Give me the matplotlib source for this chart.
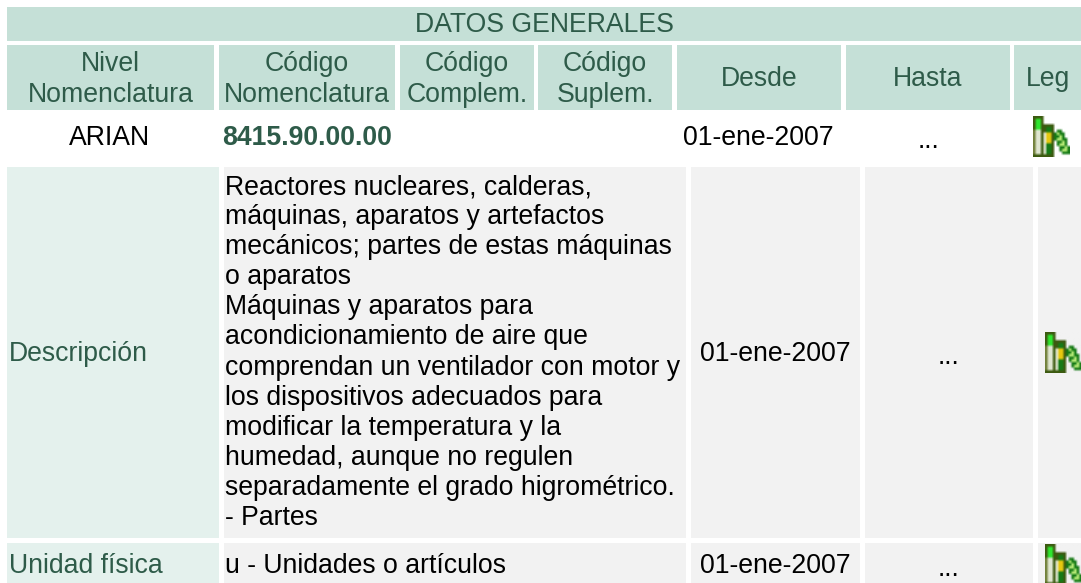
import matplotlib
matplotlib.use("Agg")
import matplotlib.pyplot as plt
from matplotlib.colors import to_rgb
from matplotlib.patches import Rectangle

W, H = 1081, 583
plt.rcParams['font.family'] = ['Liberation Sans', 'DejaVu Sans']

BANNER = "DATOS GENERALES"
HEADERS = ["Nivel\nNomenclatura", "Código\nNomenclatura", "Código\nComplem.", "Código\nSuplem.", "Desde", "Hasta", "Leg"]
CODE_ROW = ["ARIAN", "8415.90.00.00", "01-ene-2007", "..."]
DESC_LABEL = "Descripción"
DESC_TEXT = ["Reactores nucleares, calderas,", "máquinas, aparatos y artefactos",
             "mecánicos; partes de estas máquinas", "o aparatos", "Máquinas y aparatos para",
             "acondicionamiento de aire que", "comprendan un ventilador con motor y",
             "los dispositivos adecuados para", "modificar la temperatura y la",
             "humedad, aunque no regulen", "separadamente el grado higrométrico.", "- Partes"]
UNIT_LABEL = "Unidad física"
UNIT_TEXT = "u - Unidades o artículos"
DATE = "01-ene-2007"
OPEN_END = "..."

HEAD_BG, LABEL_BG, GRAY_BG = "#c5e0d7", "#e4f1ed", "#f2f2f2"
HEAD_FG = "#2e5b49"
FS = 19.2

ICON_ROWS = ["DDDD..........",
             "DGGD..........",
             "DGGD..........",
             "DGGDDDDD......",
             "DGGDDNND......",
             "OWWDDNND.NN...",
             "OWWDTYYDNLNN..",
             "OWWDTYYDNNLN..",
             "OWWDTYYDNLLNN.",
             "OWWDTYYD.NNLN.",
             "OWWDTNND.NLLN.",
             "OWWDTNND..NNLN",
             "OWWDTNND..NLLN",
             "OWWDTNND...NNN",
             "DDDDDDDD......"]
ICON_COL = {"D": "#3c5a10", "G": "#2ee62e", "O": "#71803a", "W": "#dfe6d0", "N": "#167a16",
            "Y": "#e6c80f", "L": "#b8ec78", "T": "#e6ecd8"}

fig = plt.figure(figsize=(W/100, H/100), dpi=100, facecolor="white")
ax = fig.add_axes([0, 0, 1, 1])

def box(x0, x1, y0, y1, c):
    ax.add_patch(Rectangle((x0, y0), x1-x0, y1-y0, fc=c, ec="none", lw=0))

def txt(x, y, s, color="black", ha="center", **kw):
    ax.text(x, y, s, color=color, ha=ha, va="center", fontsize=FS, **kw)

def icon(x, y, bg):
    img = [[to_rgb(ICON_COL.get(ch, bg)) for ch in row] for row in ICON_ROWS]
    ax.imshow(img, extent=(x, x+37, y+41, y), interpolation="bilinear", aspect="auto", zorder=3)

# banner
box(7, W, 7, 41, HEAD_BG)
txt(544, 25, BANNER, color=HEAD_FG)

# header row
head_x = [(7, 214), (219, 395), (400, 534), (538, 672), (677, 841), (846, 1010), (1014, W)]
for (a, b), s in zip(head_x, HEADERS):
    box(a, b, 45, 110, HEAD_BG)
    lines = s.split("\n")
    if len(lines) == 2:
        txt((a+b)/2, 64, lines[0], color=HEAD_FG)
        txt((a+b)/2, 95, lines[1], color=HEAD_FG)
    else:
        txt((a+b)/2, 79, s, color=HEAD_FG)

# code row
txt(110, 138, CODE_ROW[0])
txt(222, 138, CODE_ROW[1], color=HEAD_FG, ha="left", fontweight="bold")
txt(758, 138, CODE_ROW[2])
txt(928, 141, CODE_ROW[3])
icon(1033, 116, "white")

# description row
box(7, 219, 167, 538, LABEL_BG)
box(224, 686, 167, 538, GRAY_BG)
box(691, 860, 167, 538, GRAY_BG)
box(865, 1033, 167, 538, GRAY_BG)
box(1038, W, 167, 538, GRAY_BG)
txt(9, 354, DESC_LABEL, color=HEAD_FG, ha="left")
for i, line in enumerate(DESC_TEXT):
    txt(225, 187 + i*30.1, line, ha="left")
txt(775, 354, DATE)
txt(949, 357, OPEN_END)
icon(1045, 332, GRAY_BG)

# unit row
box(7, 219, 543, H, LABEL_BG)
box(224, 686, 543, H, GRAY_BG)
box(691, 860, 543, H, GRAY_BG)
box(865, 1033, 543, H, GRAY_BG)
box(1038, W, 543, H, GRAY_BG)
txt(9, 566, UNIT_LABEL, color=HEAD_FG, ha="left")
txt(225, 566, UNIT_TEXT, ha="left")
txt(775, 566, DATE)
txt(949, 569, OPEN_END)
icon(1045, 544, GRAY_BG)

ax.set_xlim(0, W); ax.set_ylim(H, 0); ax.axis("off")
fig.savefig("out.png", dpi=100, facecolor="white")
